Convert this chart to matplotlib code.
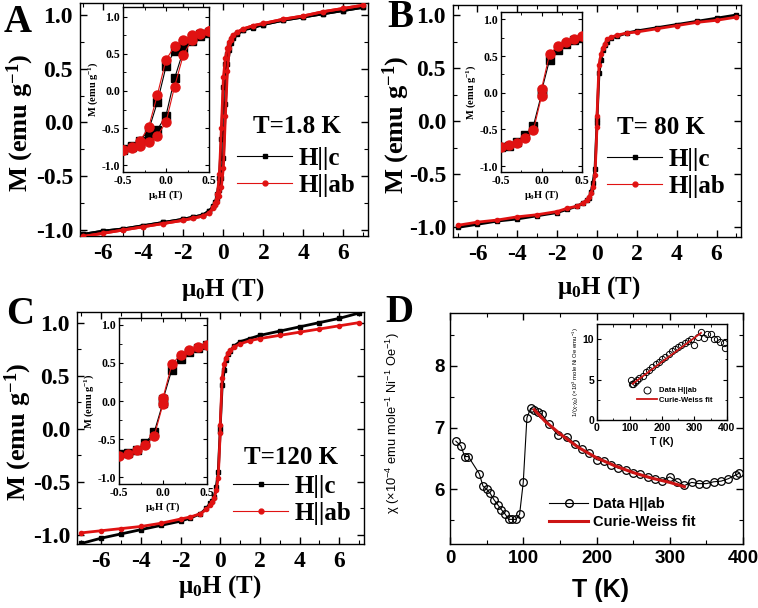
import matplotlib
matplotlib.use('Agg')
import matplotlib.pyplot as plt
from matplotlib.lines import Line2D
from matplotlib.ticker import MultipleLocator

SERIF = ['Liberation Serif', 'DejaVu Serif']
SANS = ['Liberation Sans', 'DejaVu Sans']
plt.rcParams['font.family'] = SERIF
plt.rcParams['font.weight'] = 'bold'
plt.rcParams['axes.unicode_minus'] = False
plt.rcParams['mathtext.default'] = 'regular'
plt.rcParams['axes.linewidth'] = 1.0

# ---------------- data ----------------
H_dn = [7, 6, 5, 4, 3, 2, 1.5, 1, 0.7, 0.5, 0.4, 0.3, 0.2, 0.1, 0,
        -0.1, -0.2, -0.3, -0.4, -0.5, -0.7, -1, -1.5, -2, -3, -4, -5, -6, -7]
H_up = [-7, -6, -5, -4, -3, -2, -1.5, -1, -0.7, -0.5, -0.4, -0.3, -0.2, -0.1, 0,
        0.1, 0.2, 0.3, 0.4, 0.5, 0.7, 1, 1.5, 2, 3, 4, 5, 6, 7]

# T = 1.8 K (hysteresis)
A_c_dn = [1.07, 1.04, 1.01, 0.98, 0.95, 0.91, 0.89, 0.86, 0.83, 0.80, 0.77, 0.72, 0.64, 0.54, 0.33,
          -0.15, -0.52, -0.67, -0.74, -0.78, -0.82, -0.86, -0.88, -0.90, -0.93, -0.96, -0.99, -1.01, -1.04]
A_c_up = [-1.04, -1.01, -0.99, -0.96, -0.93, -0.90, -0.88, -0.86, -0.82, -0.79, -0.76, -0.71, -0.63, -0.52, -0.33,
          0.17, 0.54, 0.67, 0.74, 0.78, 0.82, 0.86, 0.88, 0.91, 0.95, 0.98, 1.01, 1.04, 1.07]
A_ab_dn = [1.09, 1.06, 1.03, 0.99, 0.96, 0.92, 0.90, 0.87, 0.84, 0.81, 0.78, 0.75, 0.69, 0.60, 0.42,
           -0.05, -0.48, -0.67, -0.75, -0.79, -0.84, -0.87, -0.89, -0.91, -0.94, -0.97, -1.00, -1.03, -1.06]
A_ab_up = [-1.06, -1.03, -1.00, -0.97, -0.94, -0.91, -0.89, -0.87, -0.84, -0.80, -0.77, -0.74, -0.68, -0.60, -0.42,
           0.06, 0.48, 0.69, 0.77, 0.81, 0.84, 0.87, 0.90, 0.92, 0.96, 0.99, 1.03, 1.06, 1.09]

# T = 80 K and 120 K
BC_H = [-7, -6, -5, -4, -3, -2, -1.5, -1, -0.7, -0.5, -0.4, -0.3, -0.2, -0.1, 0, 0,
        0.1, 0.2, 0.3, 0.4, 0.5, 0.7, 1, 1.5, 2, 3, 4, 5, 6, 7]
B_c = [-1.00, -0.97, -0.94, -0.92, -0.89, -0.86, -0.83, -0.80, -0.77, -0.74, -0.72, -0.67, -0.58, -0.45, -0.02, 0.02,
       0.45, 0.58, 0.67, 0.72, 0.75, 0.78, 0.80, 0.83, 0.85, 0.88, 0.91, 0.94, 0.97, 1.00]
B_ab = [-0.98, -0.95, -0.93, -0.90, -0.88, -0.85, -0.82, -0.80, -0.77, -0.74, -0.71, -0.68, -0.62, -0.51, -0.05, 0.05,
        0.53, 0.63, 0.69, 0.73, 0.77, 0.79, 0.81, 0.83, 0.84, 0.87, 0.90, 0.93, 0.95, 0.98]
C_c = [-1.08, -1.03, -0.99, -0.95, -0.91, -0.87, -0.84, -0.80, -0.75, -0.70, -0.68, -0.64, -0.55, -0.41, -0.02, 0.02,
       0.41, 0.55, 0.65, 0.70, 0.73, 0.78, 0.82, 0.85, 0.88, 0.92, 0.96, 1.00, 1.04, 1.09]
C_ab = [-0.98, -0.96, -0.94, -0.92, -0.89, -0.85, -0.83, -0.80, -0.76, -0.72, -0.69, -0.65, -0.58, -0.46, -0.04, 0.04,
        0.48, 0.61, 0.67, 0.71, 0.74, 0.77, 0.80, 0.83, 0.85, 0.88, 0.91, 0.94, 0.97, 1.00]

# susceptibility vs T
D_T = [8, 15, 20, 25, 40, 45, 50, 55, 60, 65, 70, 75, 80, 85, 90, 95, 100, 105, 110, 115, 120, 125, 135,
       147, 160, 170, 180, 190, 200, 210, 220, 230, 240, 250, 260, 270, 280, 290, 300, 310, 320, 330,
       340, 350, 360, 370, 380, 390, 395]
D_chi = [6.78, 6.70, 6.53, 6.53, 6.25, 6.05, 6.00, 5.93, 5.83, 5.75, 5.67, 5.60, 5.51, 5.51, 5.51, 5.59, 6.11,
         7.16, 7.31, 7.29, 7.26, 7.22, 7.06, 6.88, 6.85, 6.74, 6.65, 6.59, 6.48, 6.45, 6.40, 6.34, 6.31, 6.26,
         6.24, 6.20, 6.17, 6.14, 6.20, 6.12, 6.06, 6.11, 6.09, 6.09, 6.12, 6.13, 6.17, 6.23, 6.26]
CW_T = [115, 130, 150, 175, 200, 225, 250, 275, 300, 320]
CW_chi = [7.29, 7.10, 6.90, 6.68, 6.51, 6.38, 6.27, 6.18, 6.11, 6.04]

# inset: inverse susceptibility
DI_T = [104, 108, 112, 117, 122, 130, 140, 150, 160, 170, 180, 190, 200, 210, 220, 230, 240, 250,
        260, 270, 280, 290, 300, 310, 320, 330, 340, 350, 360, 370, 380, 390, 395]
DI_inv = [4.95, 4.5, 4.5, 4.7, 4.9, 5.2, 5.5, 5.9, 6.2, 6.6, 6.9, 7.2, 7.5, 7.8, 8.2, 8.5, 8.8, 9.0,
          9.3, 9.5, 9.8, 10.0, 9.3, 10.3, 10.9, 10.2, 10.7, 10.6, 10.1, 10.0, 9.7, 9.5, 8.9]
DI_fitT = [110, 320]
DI_fit = [4.5, 10.8]

D_XTICKS = [0, 100, 200, 300, 400]
D_YTICKS = [6, 7, 8]
DI_YTICKS = [0, 5, 10]
LEG_LABELS = ['H||c', 'H||ab']
D_LEG = ['Data H||ab', 'Curie-Weiss fit']

# ---------------- figure ----------------
W, HP = 758, 608
RED = '#e01212'
FITRED = '#cc1414'
fig = plt.figure(figsize=(W / 100, HP / 100), dpi=100)


def rect(l, t, r, b):
    return [l / W, 1 - b / HP, (r - l) / W, (b - t) / HP]


def fx(x):
    return x / W


def fy(y):
    return 1 - y / HP


def style_ticks(ax, family, size, majlen, minlen, pad, mw=1.0):
    ax.tick_params(which='both', direction='in', top=True, right=True)
    ax.tick_params(which='major', length=majlen, width=mw, pad=pad, labelsize=size,
                   labelfontfamily=family)
    ax.tick_params(which='minor', length=minlen, width=mw * 0.8)


def mh_panel(main_r, inset_r, xlim, ylim, iylim, series, ttext, txy, legxy, ylxy, xlxy, letter, letxy):
    ax = fig.add_axes(rect(*main_r))
    for H, M, col, mk in series:
        ax.plot(H, M, color=col, lw=2.0, marker=mk, ms=3.0, mec=col, mfc=col, zorder=3)
    ax.set_xlim(*xlim)
    ax.set_ylim(*ylim)
    ax.xaxis.set_major_locator(MultipleLocator(2))
    ax.xaxis.set_minor_locator(MultipleLocator(1))
    ax.yaxis.set_major_locator(MultipleLocator(0.5))
    ax.yaxis.set_minor_locator(MultipleLocator(0.25))
    style_ticks(ax, SERIF, 17, 5, 3, 5)
    handles = [Line2D([], [], color='k', lw=0.8, marker='s', ms=3.5),
               Line2D([], [], color=RED, lw=0.8, marker='o', ms=3.5)]
    ax.legend(handles, LEG_LABELS, loc='upper left', bbox_to_anchor=(fx(legxy[0]), fy(legxy[1])),
              bbox_transform=fig.transFigure, frameon=False, handlelength=2.2, handletextpad=0.25,
              labelspacing=0.15, borderpad=0, borderaxespad=0,
              prop={'family': SERIF, 'weight': 'bold', 'size': 18})
    fig.text(fx(txy[0]), fy(txy[1]), ttext, ha='center', va='center', fontsize=18,
             family=SERIF, weight='bold')
    fig.text(fx(ylxy[0]), fy(ylxy[1]), 'M (emu g$^{-1}$)', rotation=90, ha='center', va='center',
             fontsize=19, family=SERIF, weight='bold')
    fig.text(fx(xlxy[0]), fy(xlxy[1]), 'μ$_0$H (T)', ha='center', va='center',
             fontsize=18, family=SERIF, weight='bold')
    fig.text(fx(letxy[0]), fy(letxy[1]), letter, ha='center', va='baseline', fontsize=28,
             family=SERIF, weight='bold')

    ai = fig.add_axes(rect(*inset_r))
    for H, M, col, mk in series:
        ai.plot(H, M, color=col, lw=0.8, marker=mk, ms=5.5 if mk == 's' else 6.5,
                mec=col, mfc=col, zorder=3)
    ai.set_xlim(-0.5, 0.5)
    ai.set_ylim(*iylim)
    ai.xaxis.set_major_locator(MultipleLocator(0.5))
    ai.xaxis.set_minor_locator(MultipleLocator(0.25))
    ai.yaxis.set_major_locator(MultipleLocator(0.5))
    ai.yaxis.set_minor_locator(MultipleLocator(0.25))
    style_ticks(ai, SERIF, 8.5, 3, 1.8, 2, mw=0.8)
    ai.set_ylabel('M (emu g$^{-1}$)', fontsize=7.5, family=SERIF, weight='bold', labelpad=1)
    ai.set_xlabel('μ$_0$H (T)', fontsize=7.5, family=SERIF, weight='bold', labelpad=1)
    return ax, ai


# Panel A
mh_panel((80, 3, 368, 236), (123, 7, 209, 172), (-7.17, 7.23), (-1.056, 1.11), (-1.09, 1.13),
         [(H_dn, A_c_dn, 'k', 's'), (H_up, A_c_up, 'k', 's'),
          (H_dn, A_ab_dn, RED, 'o'), (H_up, A_ab_up, RED, 'o')],
         'T=1.8 K', (297, 127), (237, 147), (20, 123), (223, 290), 'A', (18, 32))

# Panel B
mh_panel((453, 5, 741, 237), (501, 12, 582, 172), (-7.23, 7.23), (-1.09, 1.094), (-1.08, 1.10),
         [(BC_H, B_c, 'k', 's'), (BC_H, B_ab, RED, 'o')],
         'T= 80 K', (661, 128), (607, 148), (396, 125), (599, 288), 'B', (400, 27))

# Panel C
mh_panel((77, 312, 364, 544), (119, 318, 207, 484), (-7.22, 7.25), (-1.085, 1.10), (-1.09, 1.09),
         [(BC_H, C_c, 'k', 's'), (BC_H, C_ab, RED, 'o')],
         'T=120 K', (291, 458), (233, 475), (18, 432), (220, 587), 'C', (20, 324))

# Panel D
axD = fig.add_axes(rect(450, 313, 743, 544))
axD.plot(D_T, D_chi, color='k', lw=0.8, marker='o', ms=5.5, mfc='none', mec='k', mew=0.9, zorder=3)
axD.plot(CW_T, CW_chi, color=FITRED, lw=2.2, zorder=4)
tick_font = {'family': SANS, 'weight': 'bold', 'size': 13.5}
axD.set_xticks(D_XTICKS, labels=[str(v) for v in D_XTICKS], fontdict=tick_font)
axD.set_yticks(D_YTICKS, labels=[str(v) for v in D_YTICKS], fontdict=tick_font)
axD.xaxis.set_minor_locator(MultipleLocator(50))
axD.yaxis.set_minor_locator(MultipleLocator(0.5))
axD.tick_params(which='both', direction='in', top=True, right=True)
axD.tick_params(which='major', length=5, width=1, pad=4)
axD.tick_params(which='minor', length=3, width=0.8)
axD.set_xlim(0, 400)
axD.set_ylim(5.11, 8.86)
dh = [Line2D([], [], color='k', lw=0.8, marker='o', ms=5.5, mfc='none', mec='k'),
      Line2D([], [], color=FITRED, lw=2.2)]
axD.legend(dh, D_LEG, loc='upper left', bbox_to_anchor=(fx(549), fy(497)), bbox_transform=fig.transFigure,
           frameon=False, handlelength=2.7, handletextpad=0.3, labelspacing=0.25, borderpad=0,
           borderaxespad=0, prop={'family': SANS, 'weight': 'bold', 'size': 10.5})
fig.text(fx(393), fy(423), 'χ (×10$^{-4}$ emu mole$^{-1}$ Ni$^{-1}$ Oe$^{-1}$)', rotation=90,
         ha='center', va='center', fontsize=9.3, family=SANS, weight='normal')
fig.text(fx(600), fy(590), 'T (K)', ha='center', va='center', fontsize=18, family=SANS, weight='bold')
fig.text(fx(399), fy(322), 'D', ha='center', va='baseline', fontsize=28, family=SERIF, weight='bold')

# Inset D
aiD = fig.add_axes(rect(597, 324, 727, 420))
aiD.plot(DI_T, DI_inv, ls='none', marker='o', ms=4.5, mfc='none', mec='k', mew=0.7, zorder=3)
aiD.plot(DI_fitT, DI_fit, color=FITRED, lw=1.3, zorder=4)
itick_font = {'family': SANS, 'weight': 'bold', 'size': 7.5}
aiD.set_xticks(D_XTICKS, labels=[str(v) for v in D_XTICKS], fontdict=itick_font)
aiD.set_yticks(DI_YTICKS, labels=[str(v) for v in DI_YTICKS], fontdict=itick_font)
aiD.xaxis.set_minor_locator(MultipleLocator(50))
aiD.yaxis.set_minor_locator(MultipleLocator(2.5))
aiD.set_xlim(0, 400)
aiD.set_ylim(0, 11.9)
aiD.tick_params(which='both', direction='in', top=True, right=True)
aiD.tick_params(which='major', length=3, width=0.8, pad=2)
aiD.tick_params(which='minor', length=1.8, width=0.6)
aiD.set_xlabel('T (K)', fontsize=7.5, family=SANS, weight='bold', labelpad=3)
aiD.set_ylabel('1/(χ-χ$_0$) (×10$^3$ mole Ni Oe emu$^{-1}$)', fontsize=4.3, family=SANS,
               weight='normal', labelpad=1)
dih = [Line2D([], [], ls='none', marker='o', ms=5, mfc='none', mec='k', mew=0.7),
       Line2D([], [], color=FITRED, lw=1.3)]
aiD.legend(dih, ['Data H||ab', 'Curie-Weiss fit'], loc='upper left',
           bbox_to_anchor=(fx(637), fy(387)), bbox_transform=fig.transFigure, frameon=False,
           handlelength=2.6, handletextpad=0.3, labelspacing=0.3, borderpad=0, borderaxespad=0,
           prop={'family': SANS, 'weight': 'bold', 'size': 5.5})

fig.savefig('out.png', dpi=100)
